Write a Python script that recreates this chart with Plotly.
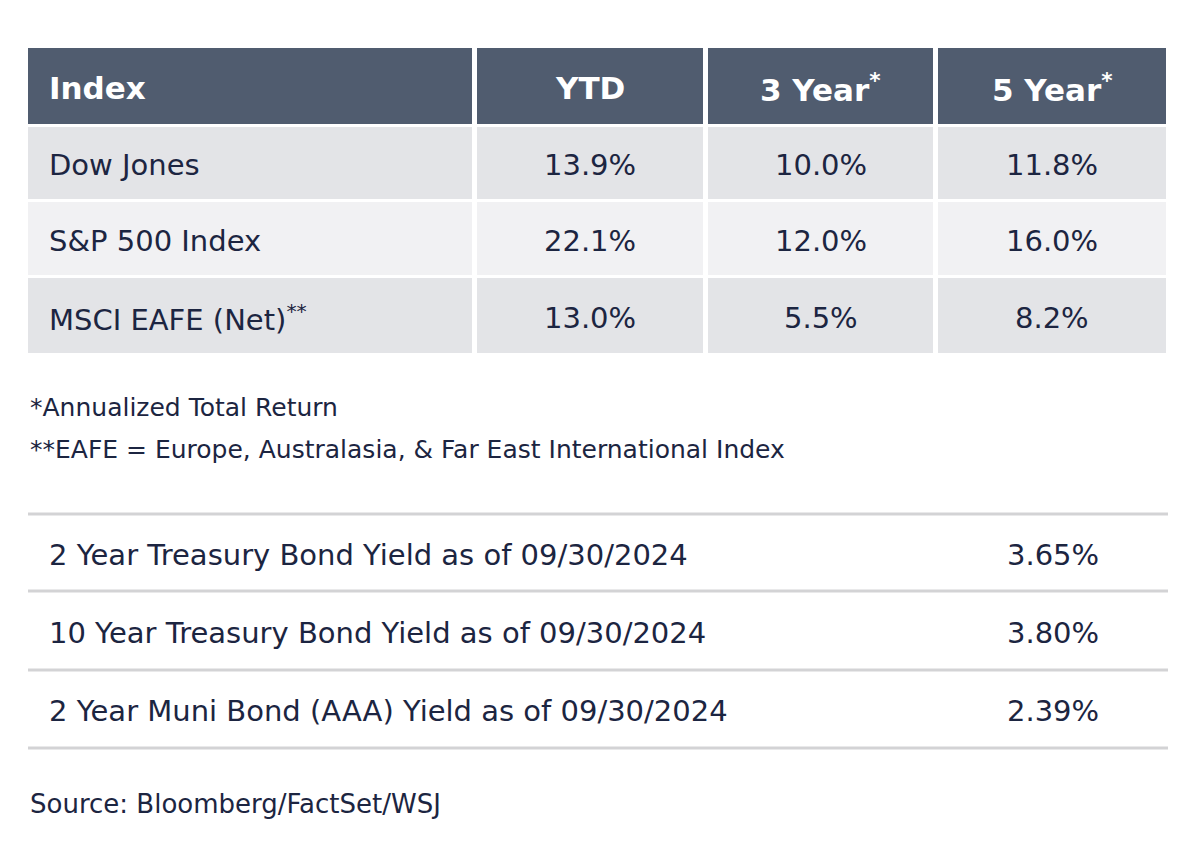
import plotly.graph_objects as go

headers = ["Index", "YTD", "3 Year<sup>*</sup>", "5 Year<sup>*</sup>"]
indices = ["Dow Jones", "S&P 500 Index", "MSCI EAFE (Net)<sup>**</sup>"]
ytd = ["13.9%", "22.1%", "13.0%"]
y3 = ["10.0%", "12.0%", "5.5%"]
y5 = ["11.8%", "16.0%", "8.2%"]
notes = ["*Annualized Total Return", "**EAFE = Europe, Australasia, & Far East International Index"]
bonds = ["2 Year Treasury Bond Yield as of 09/30/2024",
         "10 Year Treasury Bond Yield as of 09/30/2024",
         "2 Year Muni Bond (AAA) Yield as of 09/30/2024"]
yields = ["3.65%", "3.80%", "2.39%"]
source = "Source: Bloomberg/FactSet/WSJ"

W, H = 1200, 863
OFF = 8  # page offset compensation
FONT = "DejaVu Sans"
TXT = "#1c2541"
cols = [(28, 472), (477, 703), (708, 933), (938, 1166)]
hdr = (48, 124)
rows = [(127, 199), (202, 275), (278, 353)]
rowcol = ["#e3e4e7", "#f1f1f3", "#e3e4e7"]

shapes, ann = [], []
def X(v): return v - OFF
def Y(v): return v - OFF

for i, (x0, x1) in enumerate(cols):
    shapes.append(dict(type="rect", x0=X(x0), x1=X(x1), y0=Y(hdr[0]), y1=Y(hdr[1]), fillcolor="#505c6f", line_width=0, layer="below"))
    ann.append(dict(x=X(47 if i == 0 else (x0 + x1) / 2), y=Y((hdr[0] + hdr[1]) / 2 + 2), text="<b>%s</b>" % headers[i],
                    xanchor="left" if i == 0 else "center", showarrow=False,
                    font=dict(family=FONT, size=31, color="white")))
    for r, (y0, y1) in enumerate(rows):
        shapes.append(dict(type="rect", x0=X(x0), x1=X(x1), y0=Y(y0), y1=Y(y1), fillcolor=rowcol[r], line_width=0, layer="below"))
        val = [indices, ytd, y3, y5][i][r]
        ann.append(dict(x=X(47 if i == 0 else (x0 + x1) / 2), y=Y((y0 + y1) / 2 + 2), text=val,
                        xanchor="left" if i == 0 else "center", showarrow=False,
                        font=dict(family=FONT, size=29, color=TXT)))
for k, t in enumerate(notes):
    ann.append(dict(x=X(28), y=Y(407 + 42 * k), text=t, xanchor="left", showarrow=False,
                    font=dict(family=FONT, size=25, color=TXT)))
lines = [514, 591, 670, 748]
for y in lines:
    shapes.append(dict(type="line", x0=X(28), x1=X(1168), y0=Y(y), y1=Y(y), line=dict(color="#d3d3d5", width=3)))
for k in range(3):
    yc = (lines[k] + lines[k + 1]) / 2 + 2
    ann.append(dict(x=X(47), y=Y(yc), text=bonds[k], xanchor="left", showarrow=False,
                    font=dict(family=FONT, size=29, color=TXT)))
    ann.append(dict(x=X(1053), y=Y(yc), text=yields[k], xanchor="center", showarrow=False,
                    font=dict(family=FONT, size=29, color=TXT)))
ann.append(dict(x=X(28), y=Y(804), text=source, xanchor="left", showarrow=False,
                font=dict(family=FONT, size=26, color=TXT)))

fig = go.Figure()
fig.update_layout(width=W, height=H, margin=dict(l=0, r=0, t=0, b=0),
                  plot_bgcolor="white", paper_bgcolor="white",
                  xaxis=dict(range=[0, W], visible=False, fixedrange=True),
                  yaxis=dict(range=[H, 0], visible=False, fixedrange=True),
                  shapes=shapes, annotations=ann, showlegend=False)
fig.write_html("out.html")
